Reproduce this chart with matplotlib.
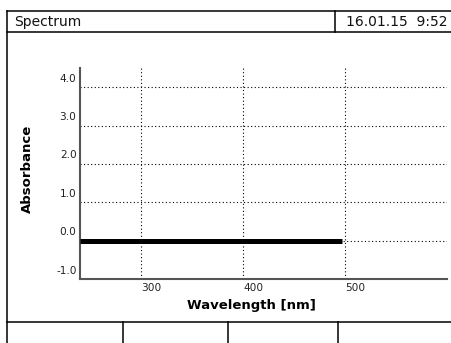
import matplotlib
matplotlib.use("Agg")
import matplotlib.pyplot as plt
from matplotlib.lines import Line2D

# ── data ──────────────────────────────────────────────
wavelengths = [240, 497]
absorbance = [0.0, 0.0]
x_ticks = [300, 400, 500]
y_ticks = [-1.0, 0.0, 1.0, 2.0, 3.0, 4.0]
y_tick_labels = ["-1.0", "0.0", "1.0", "2.0", "3.0", "4.0"]
title_left = "Spectrum"
title_right = "16.01.15  9:52"

W, H = 451, 343
plt.rcParams["font.family"] = "DejaVu Sans"

fig = plt.figure(figsize=(W / 100, H / 100), dpi=100, facecolor="white")


def px(x, y):
    return x / W, 1 - y / H


# ── screen frame ──────────────────────────────────────
frame = [
    ((7.3, 11), (7.3, 343)),      # left border
    ((7.3, 11), (451, 11)),       # top border
    ((7.3, 32.3), (451, 32.3)),   # header bottom
    ((335, 11), (335, 32.3)),     # header divider
    ((7.3, 321.5), (451, 321.5)), # footer top
    ((123, 321.5), (123, 343)),
    ((228, 321.5), (228, 343)),
    ((338, 321.5), (338, 343)),
]
for (x0, y0), (x1, y1) in frame:
    a, b = px(x0, y0)
    c, d = px(x1, y1)
    fig.add_artist(Line2D([a, c], [b, d], color="black", lw=1.1,
                          transform=fig.transFigure))

fig.text(*px(14, 22), title_left, fontsize=10, va="center", ha="left", color="#111111")
fig.text(*px(346, 22), title_right, fontsize=10, va="center", ha="left", color="#111111")

# ── plot area ─────────────────────────────────────────
left, right, top, bottom = 80, 447, 68, 279
ax = fig.add_axes([left / W, 1 - bottom / H, (right - left) / W, (bottom - top) / H])
ax.set_xlim(240, 600)
ax.set_ylim(-1.0, 4.5)

ax.plot(wavelengths, absorbance, color="black", lw=3.6, solid_capstyle="butt", zorder=3)

for s in ["top", "right"]:
    ax.spines[s].set_visible(False)
for s in ["left", "bottom"]:
    ax.spines[s].set_color("#555555")
    ax.spines[s].set_linewidth(1.5)

ax.set_xticks(x_ticks)
ax.set_yticks(y_ticks)
ax.grid(True, color="black", lw=0.8, linestyle=(0, (1, 2.2)))
ax.tick_params(length=0, labelsize=7.6, colors="#222222", pad=3)
ax.set_xticklabels([str(t) for t in x_ticks], ha="left")
ax.set_yticklabels([])
for v, lab in zip(y_ticks, y_tick_labels):
    ax.annotate(lab, xy=(0, v), xycoords=("axes fraction", "data"),
                xytext=(-2.5, 2.5), textcoords="offset points",
                ha="right", va="bottom", fontsize=7.6, color="#222222")

ax.set_xlabel("Wavelength [nm]", fontsize=9.5, fontweight="bold")
ax.set_ylabel("Absorbance", fontsize=9.5, fontweight="bold")
ax.xaxis.set_label_coords((251.5 - left) / (right - left), (bottom - 305.5) / (bottom - top))
ax.yaxis.set_label_coords((27.5 - left) / (right - left), (bottom - 169) / (bottom - top))
ax.xaxis.label.set_va("center")
ax.yaxis.label.set_va("center")

fig.savefig("out.png", dpi=100)
